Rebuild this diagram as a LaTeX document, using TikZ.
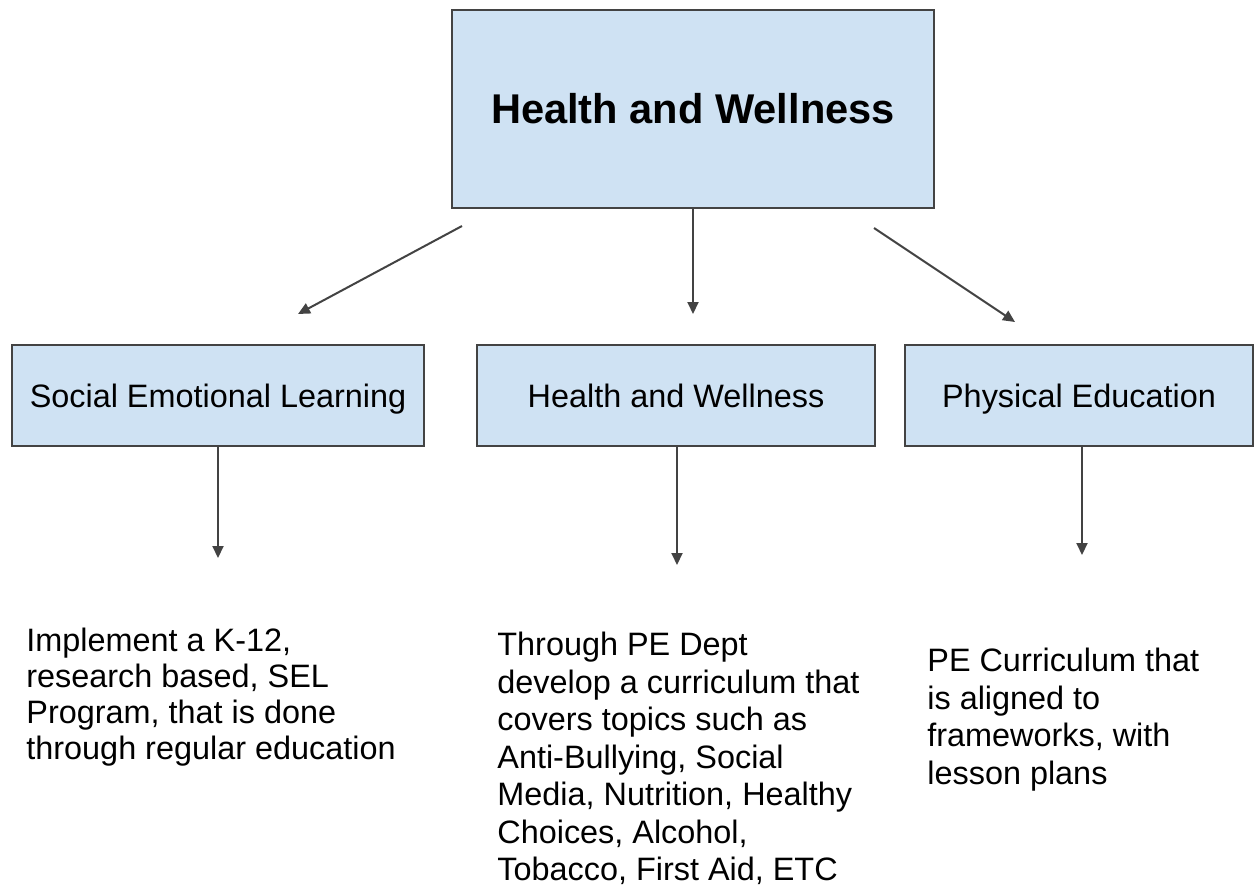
\documentclass[tikz,border=0pt]{standalone}
\usepackage{fontspec}
\setmainfont{Liberation Sans}
\usetikzlibrary{arrows.meta,positioning}
\definecolor{boxblue}{RGB}{207,226,243}
\definecolor{linegray}{RGB}{67,67,67}
\tikzset{
    topbox/.style={
        rectangle,
        draw=linegray,
        fill=boxblue,
        line width=1pt,
        minimum width=241pt,
        minimum height=99pt,
        font=\fontsize{20.8}{25}\selectfont\bfseries
    },
    areabox/.style={
        rectangle,
        draw=linegray,
        fill=boxblue,
        line width=1pt,
        minimum height=50.5pt,
        text height=11.6pt,
        text depth=0pt,
        font=\fontsize{16.2}{19}\selectfont
    },
    notetext/.style={
        anchor=north west,
        inner sep=0pt,
        align=left,
        font=\fontsize{16.2}{18.75}\selectfont
    },
    link/.style={
        -{Triangle[length=6pt,width=5.5pt]},
        draw=linegray,
        line width=1pt
    }
}

\begin{document}
\begin{tikzpicture}[x=0.5pt,y=-0.5pt]
\useasboundingbox (0,0) rectangle (1254,895);

% Health and Wellness (top)
\node[topbox] (top) at (693,109) {Health and Wellness};

% three areas
\node[areabox, minimum width=206pt] (sel) at (218,395.5) {Social Emotional Learning};
\node[areabox, minimum width=199pt] (hw) at (676,395.5) {Health and Wellness};
\node[areabox, minimum width=174pt] (pe) at (1079,395.5) {Physical Education};

% notes
\node[notetext, font=\fontsize{16.2}{18}\selectfont] (sel-note) at (26,628) {Implement a K-12,\\research based, SEL\\Program, that is done\\through regular education};
\node[notetext] (hw-note) at (497,632) {Through PE Dept\\develop a curriculum that\\covers topics such as\\Anti-Bullying, Social\\Media, Nutrition, Healthy\\Choices, Alcohol,\\Tobacco, First Aid, ETC};
\node[notetext] (pe-note) at (927,648) {PE Curriculum that\\is aligned to\\frameworks, with\\lesson plans};

% arrow ends
\coordinate (l-start) at (462,226);
\coordinate (l-end) at (298,314);
\coordinate (m-end) at (693,314);
\coordinate (r-start) at (874,228);
\coordinate (r-end) at (1015,322);
\coordinate (sel-end) at (218,558);
\coordinate (hw-end) at (677,565);
\coordinate (pe-end) at (1082,555);

\draw[link] (l-start) -- (l-end);
\draw[link] (top.south) -- (m-end);
\draw[link] (r-start) -- (r-end);
\draw[link] (sel.south) -- (sel-end);
\draw[link] (hw-end |- hw.south) -- (hw-end);
\draw[link] (pe-end |- pe.south) -- (pe-end);
\end{tikzpicture}
\end{document}
